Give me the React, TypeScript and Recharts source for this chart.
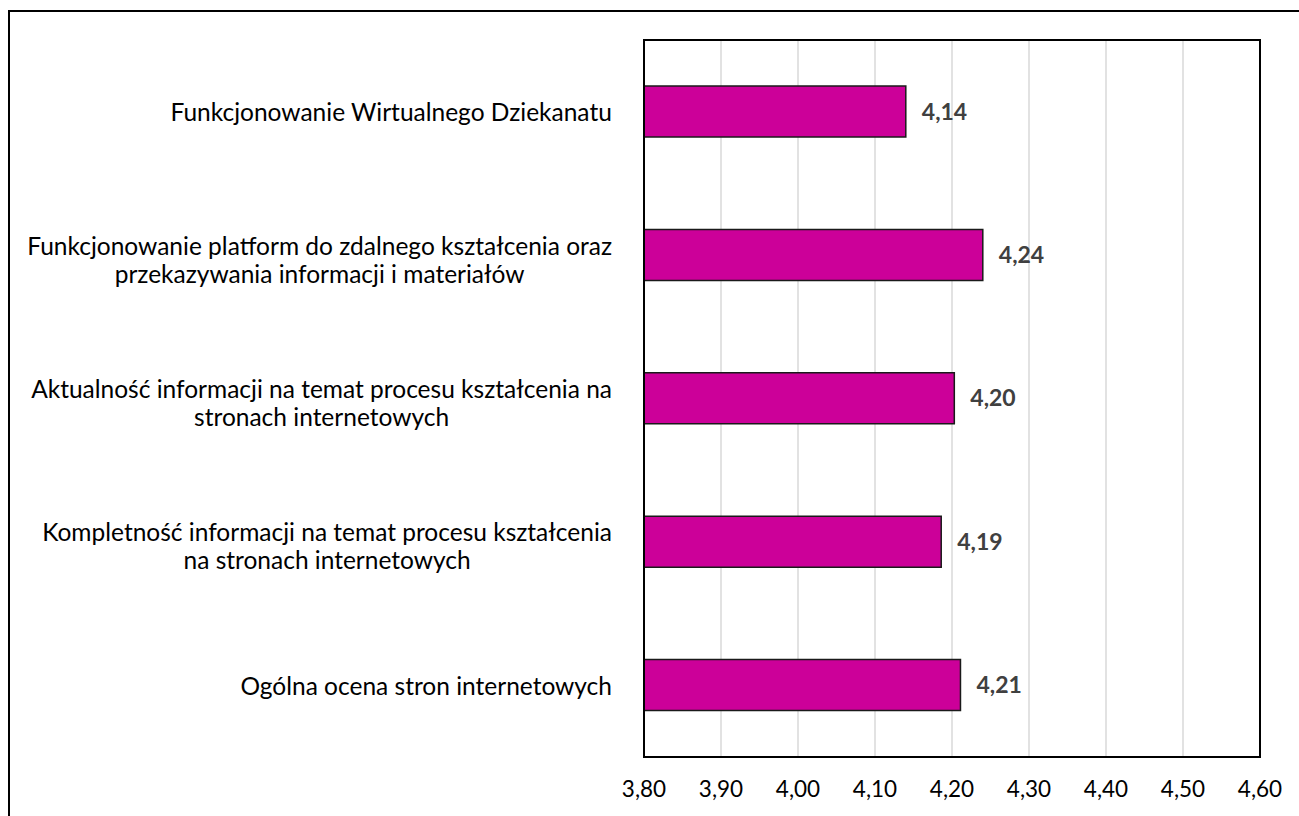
import React from 'react';
import { BarChart, Bar, XAxis, YAxis, CartesianGrid, LabelList, ReferenceArea } from 'recharts';

const categories = [
  'Funkcjonowanie Wirtualnego Dziekanatu',
  'Funkcjonowanie platform do zdalnego kształcenia oraz\nprzekazywania informacji i materiałów',
  'Aktualność informacji na temat procesu kształcenia na\nstronach internetowych',
  'Kompletność informacji na temat procesu kształcenia\nna stronach internetowych',
  'Ogólna ocena stron internetowych',
];
const values = [4.14, 4.24, 4.203, 4.186, 4.211];
const xTicks = [3.8, 3.9, 4.0, 4.1, 4.2, 4.3, 4.4, 4.5, 4.6];

const data = categories.map((c, i) => ({ name: c, value: values[i] }));

const FONT = 'Lato, "Open Sans", sans-serif';
const CAT_FS = 24.5;
const TICK_FS = 22.5;
const LABEL_FS = 23;
const fmt = (v: number) => v.toFixed(2).replace('.', ',');

let ctx: CanvasRenderingContext2D | null = null;
const measure = (t: string) => {
  if (!ctx) ctx = document.createElement('canvas').getContext('2d');
  if (!ctx) return t.length * 12;
  ctx.font = `${CAT_FS}px Lato`;
  return ctx.measureText(t).width;
};

const YTick = (props: any) => {
  const { y, payload } = props;
  const lines = String(payload.value).split('\n');
  const widths = lines.map(measure);
  const maxW = Math.max(...widths);
  const right = 612;
  const cx = right - maxW / 2;
  const lh = 28;
  const shift = lines.length > 1 ? 4 : 0;
  return (
    <g>
      {lines.map((l, i) => (
        <text
          key={i}
          x={cx}
          y={y + (i - (lines.length - 1) / 2) * lh + shift}
          textAnchor="middle"
          dominantBaseline="central"
          fontFamily={FONT}
          fontSize={CAT_FS}
          fill="#000"
        >
          {l}
        </text>
      ))}
    </g>
  );
};

const XTick = (props: any) => {
  const { x, payload } = props;
  return (
    <text x={x} y={757 + 31} textAnchor="middle" dominantBaseline="central" fontFamily={FONT} fontSize={TICK_FS} fill="#000">
      {fmt(payload.value)}
    </text>
  );
};

export default function App() {
  return (
    <div>
      <div
        style={{
          position: 'absolute',
          left: 8,
          top: 10,
          width: 1291,
          height: 806,
          boxSizing: 'border-box',
          borderTop: '2px solid #000',
          borderLeft: '2px solid #000',
        }}
      />
      <div style={{ position: 'absolute', left: 0, top: 0 }}>
        <BarChart
          width={1299}
          height={816}
          data={data}
          layout="vertical"
          margin={{ top: 40, right: 39, bottom: 0, left: 0 }}
          barCategoryGap={0}
        >
          <CartesianGrid horizontal={false} vertical={true} stroke="#d9d9d9" strokeWidth={1.5} />
          <XAxis
            type="number"
            domain={[3.8, 4.6]}
            ticks={xTicks}
            interval={0}
            allowDataOverflow
            height={59}
            axisLine={{ stroke: '#000', strokeWidth: 2 }}
            tickLine={false}
            tick={<XTick />}
          />
          <YAxis
            type="category"
            dataKey="name"
            width={644}
            axisLine={{ stroke: '#000', strokeWidth: 2 }}
            tickLine={false}
            tick={<YTick />}
            interval={0}
          />
          <ReferenceArea x1={3.8} x2={4.6} fill="none" stroke="#000" strokeWidth={2} fillOpacity={0} ifOverflow="extendDomain" />
          <Bar dataKey="value" fill="#CC0099" stroke="#1a1a1a" strokeWidth={1.5} barSize={51} isAnimationActive={false}>
            <LabelList
              dataKey="value"
              position="right"
              offset={16}
              formatter={(v: any) => fmt(Number(v))}
              fill="#404040"
              fontFamily={FONT}
              fontSize={LABEL_FS}
              fontWeight="bold"
            />
          </Bar>
        </BarChart>
      </div>
    </div>
  );
}
